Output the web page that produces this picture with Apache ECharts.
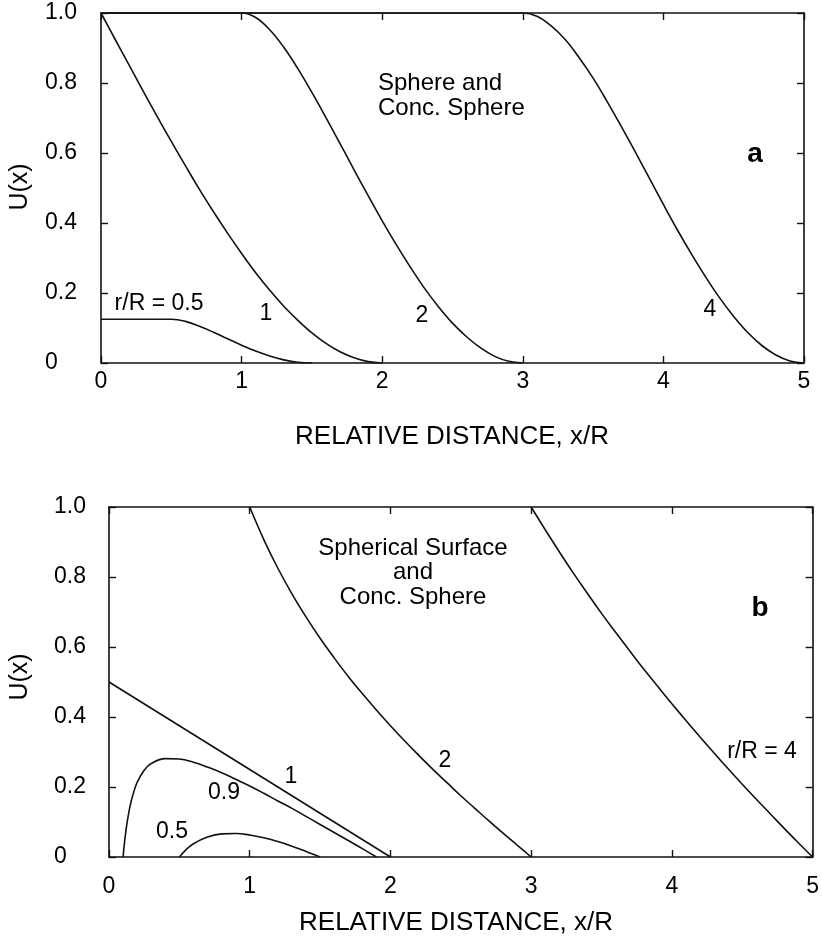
<!DOCTYPE html>
<html>
<head>
<meta charset="utf-8">
<script src="https://cdn.jsdelivr.net/npm/echarts@6/dist/echarts.min.js"></script>
<style>
html,body{margin:0;padding:0;background:#fff;}
#c{width:822px;height:941px;}
</style>
</head>
<body>
<div id="c"></div>
<script>
// ---- tick labels ----
const xTicks = [0, 1, 2, 3, 4, 5];
const xTickLabels = ['0', '1', '2', '3', '4', '5'];
const yTicks = [0, 0.2, 0.4, 0.6, 0.8, 1.0];
const yTickLabels = ['0', '0.2', '0.4', '0.6', '0.8', '1.0'];

// ---- panel a: Sphere and Conc. Sphere (x/R, U) ----
const sphereR05 = [[0,0.125],[0.5,0.125],[0.6,0.119],[0.7,0.105],[0.8,0.088],[0.9,0.069],[1.0,0.051],[1.1,0.034],[1.2,0.020],[1.3,0.009],[1.4,0.002],[1.5,0]];
const sphereR1 = [[0,1],[0.1,0.925],[0.2,0.851],[0.3,0.777],[0.4,0.704],[0.5,0.633],[0.6,0.564],[0.7,0.496],[0.8,0.432],[0.9,0.371],[1.0,0.313],[1.1,0.258],[1.2,0.208],[1.3,0.162],[1.4,0.122],[1.5,0.086],[1.6,0.056],[1.7,0.032],[1.8,0.015],[1.9,0.004],[2.0,0]];
const sphereR2 = [[0,1],[1.0,1],[1.1,0.987],[1.2,0.952],[1.3,0.902],[1.4,0.841],[1.5,0.773],[1.6,0.701],[1.7,0.627],[1.8,0.552],[1.9,0.478],[2.0,0.406],[2.1,0.338],[2.2,0.274],[2.3,0.214],[2.4,0.161],[2.5,0.114],[2.6,0.075],[2.7,0.043],[2.8,0.019],[2.9,0.005],[3.0,0]];
const sphereR4 = [[0,1],[3.0,1],[3.1,0.991],[3.2,0.964],[3.3,0.925],[3.4,0.873],[3.5,0.814],[3.6,0.747],[3.7,0.676],[3.8,0.603],[3.9,0.528],[4.0,0.453],[4.1,0.380],[4.2,0.311],[4.3,0.246],[4.4,0.186],[4.5,0.133],[4.6,0.087],[4.7,0.050],[4.8,0.023],[4.9,0.006],[5.0,0]];

// ---- panel b: Spherical Surface and Conc. Sphere ----
const surfR05 = [[0.5,0],[0.55,0.022],[0.6,0.038],[0.7,0.057],[0.8,0.066],[0.9,0.067],[1.0,0.063],[1.1,0.055],[1.2,0.044],[1.3,0.031],[1.4,0.016],[1.45,0.008],[1.5,0]];
const surfR09 = [[0.1,0],[0.11,0.041],[0.12,0.074],[0.13,0.102],[0.15,0.146],[0.17,0.178],[0.2,0.213],[0.25,0.248],[0.3,0.267],[0.4,0.281],[0.5,0.280],[0.6,0.271],[0.7,0.257],[0.8,0.241],[0.9,0.222],[1.0,0.203],[1.1,0.182],[1.2,0.160],[1.3,0.139],[1.4,0.116],[1.5,0.093],[1.6,0.070],[1.7,0.047],[1.8,0.024],[1.9,0]];
const surfR1 = [[0,0.5],[0.5,0.375],[1.0,0.25],[1.5,0.125],[2.0,0]];
const surfR2 = [[1.0,1],[1.1,0.907],[1.2,0.825],[1.3,0.752],[1.4,0.686],[1.5,0.625],[1.6,0.569],[1.7,0.516],[1.8,0.467],[1.9,0.420],[2.0,0.375],[2.1,0.332],[2.2,0.291],[2.3,0.251],[2.4,0.213],[2.5,0.175],[2.6,0.139],[2.7,0.103],[2.8,0.068],[2.9,0.034],[3.0,0]];
const surfR4 = [[3.0,1],[3.1,0.935],[3.2,0.872],[3.3,0.811],[3.4,0.753],[3.5,0.696],[3.6,0.642],[3.7,0.589],[3.8,0.537],[3.9,0.487],[4.0,0.438],[4.1,0.390],[4.2,0.343],[4.3,0.297],[4.4,0.252],[4.5,0.208],[4.6,0.165],[4.7,0.123],[4.8,0.081],[4.9,0.040],[5.0,0]];

// ---- text ----
const FONT = '"Liberation Sans", Arial, Helvetica, sans-serif';
const annotations = [
  // panel a
  {t:'Sphere and', x:378, y:83, align:'left', size:24},
  {t:'Conc. Sphere', x:378, y:108, align:'left', size:24},
  {t:'r/R = 0.5', x:159, y:304, align:'center', size:23},
  {t:'1', x:266, y:314, align:'center', size:23},
  {t:'2', x:422, y:316, align:'center', size:23},
  {t:'4', x:710, y:310, align:'center', size:23},
  {t:'a', x:755, y:154, align:'center', size:28, bold:true},
  {t:'RELATIVE DISTANCE, x/R', x:452, y:437, align:'center', size:26},
  // panel b
  {t:'Spherical Surface', x:413, y:548, align:'center', size:24},
  {t:'and', x:413, y:572, align:'center', size:24},
  {t:'Conc. Sphere', x:413, y:597, align:'center', size:24},
  {t:'1', x:291, y:777, align:'center', size:23},
  {t:'0.9', x:224, y:793, align:'center', size:23},
  {t:'0.5', x:172, y:832, align:'center', size:23},
  {t:'2', x:445, y:761, align:'center', size:23},
  {t:'r/R = 4', x:762, y:752, align:'center', size:23},
  {t:'b', x:760, y:608, align:'center', size:28, bold:true},
  {t:'RELATIVE DISTANCE, x/R', x:456, y:923, align:'center', size:26}
];
const yTitles = [{t:'U(x)', x:20, y:187}, {t:'U(x)', x:20, y:677}];

const lineCol = '#111';
function xAx(grid, pos, labels, margin) {
  return {
    type:'value', gridIndex:grid, position:pos, min:0, max:5, interval:1,
    axisLine:{show:true, onZero:false, lineStyle:{color:lineCol, width:1.6}},
    axisTick:{show:true, inside:true, length:7, lineStyle:{color:lineCol, width:1.4}},
    splitLine:{show:false},
    axisLabel:{show:labels, margin:margin, color:'#000', fontSize:23, fontFamily:FONT,
      formatter:v => xTickLabels[xTicks.indexOf(Math.round(v))]}
  };
}
function yAx(grid, pos, labels, margin) {
  return {
    type:'value', gridIndex:grid, position:pos, min:0, max:1, interval:0.2,
    axisLine:{show:true, onZero:false, lineStyle:{color:lineCol, width:1.6}},
    axisTick:{show:true, inside:true, length:7, lineStyle:{color:lineCol, width:1.4}},
    splitLine:{show:false},
    axisLabel:{show:labels, margin:margin, align:'left', color:'#000', fontSize:23, fontFamily:FONT,
      formatter:v => yTickLabels[yTicks.findIndex(t => Math.abs(t - v) < 1e-6)]}
  };
}
function ser(data, xi, yi, smooth) {
  return {type:'line', xAxisIndex:xi, yAxisIndex:yi, data:data, showSymbol:false, smooth:smooth,
    lineStyle:{color:lineCol, width:1.6}, animation:false, silent:true, clip:true};
}

const chart = echarts.init(document.getElementById('c'), null, {renderer:'canvas'});
const graphics = annotations.map(a => ({
  type:'text', x:a.x, y:a.y,
  style:{text:a.t, fill:'#000', font:(a.bold?'bold ':'') + a.size + 'px ' + FONT,
    align:a.align, verticalAlign:'middle'}
})).concat(yTitles.map(a => ({
  type:'text', x:a.x, y:a.y, rotation:Math.PI/2,
  style:{text:a.t, fill:'#000', font:'25px ' + FONT, align:'center', verticalAlign:'middle'}
})));

chart.setOption({
  animation:false,
  backgroundColor:'#fff',
  grid:[
    {left:101, top:13, width:703, height:350},
    {left:109, top:507, width:706, height:350}
  ],
  xAxis:[xAx(0,'bottom',true,7), xAx(0,'top',false,8), xAx(1,'bottom',true,18), xAx(1,'top',false,8)],
  yAxis:[yAx(0,'left',true,56), yAx(0,'right',false,8), yAx(1,'left',true,55), yAx(1,'right',false,8)],
  series:[
    ser(sphereR05,0,0,0.4), ser(sphereR1,0,0,0.4), ser(sphereR2,0,0,0.4), ser(sphereR4,0,0,0.4),
    ser(surfR05,2,2,0.4), ser(surfR09,2,2,0.4), ser(surfR1,2,2,false), ser(surfR2,2,2,0.4), ser(surfR4,2,2,0.4)
  ],
  graphic:graphics
});
</script>
</body>
</html>
